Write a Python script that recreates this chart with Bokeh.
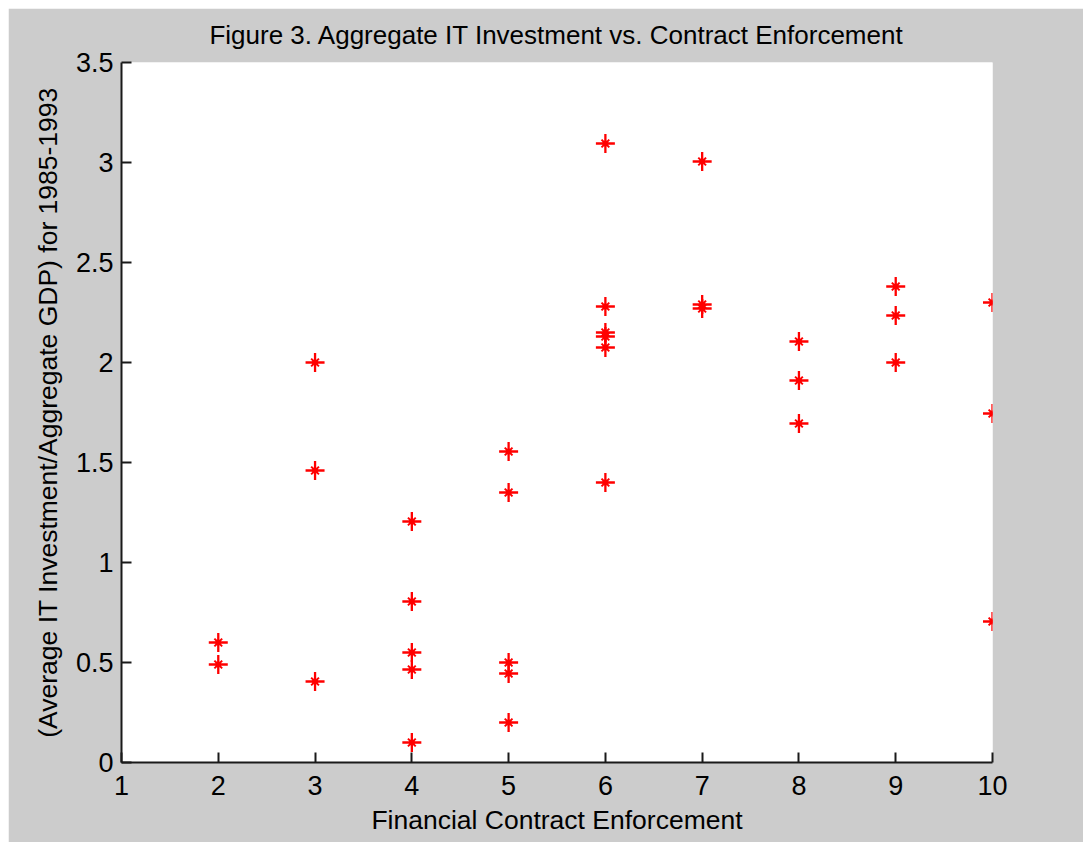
from bokeh.plotting import figure
from bokeh.models import Range1d, FixedTicker, Spacer
from bokeh.layouts import column, row
from bokeh.embed import file_html
from bokeh.resources import INLINE

# Data
enforcement = [2, 2,
               3, 3, 3,
               4, 4, 4, 4, 4,
               5, 5, 5, 5, 5,
               6, 6, 6, 6, 6, 6,
               7, 7, 7,
               8, 8, 8,
               9, 9, 9,
               10, 10, 10]
it_investment = [0.60, 0.49,
                 2.00, 1.46, 0.405,
                 1.205, 0.805, 0.55, 0.465, 0.10,
                 1.555, 1.35, 0.50, 0.445, 0.20,
                 3.095, 2.28, 2.15, 2.13, 2.075, 1.40,
                 3.005, 2.29, 2.27,
                 2.105, 1.91, 1.695,
                 2.38, 2.235, 2.00,
                 2.30, 1.745, 0.705]

x_ticks = [1, 2, 3, 4, 5, 6, 7, 8, 9, 10]
y_ticks = [0, 0.5, 1, 1.5, 2, 2.5, 3, 3.5]
y_tick_labels = ["0", "0.5", "1", "1.5", "2", "2.5", "3", "3.5"]

title_text = "Figure 3. Aggregate IT Investment vs. Contract Enforcement"
x_label = "Financial Contract Enforcement"
y_label = "(Average IT Investment/Aggregate GDP) for 1985-1993"

FONT = "Liberation Sans"
GREY = "#cccccc"

p = figure(width=1075, height=834, output_backend="svg", toolbar_location=None,
           x_range=Range1d(x_ticks[0], x_ticks[-1]),
           y_range=Range1d(y_ticks[0], y_ticks[-1]),
           min_border_left=113, min_border_right=91, min_border_top=54,
           min_border_bottom=80, title=title_text)

p.background_fill_color = "white"
p.border_fill_color = GREY
p.outline_line_color = None
p.grid.visible = False

p.title.align = "center"
p.title.vertical_align = "top"
p.title.text_font = FONT
p.title.text_font_size = "26px"
p.title.text_font_style = "normal"
p.title.text_color = "black"
p.title.standoff = 21

for ax in (p.xaxis[0], p.yaxis[0]):
    ax.axis_line_color = "#1a1a1a"
    ax.axis_line_width = 2
    ax.major_tick_line_color = "#1a1a1a"
    ax.major_tick_line_width = 2
    ax.major_tick_in = 10
    ax.major_tick_out = 0
    ax.minor_tick_line_color = None
    ax.major_label_text_font = FONT
    ax.major_label_text_font_size = "27px"
    ax.major_label_text_color = "black"
    ax.axis_label_text_font = FONT
    ax.axis_label_text_font_size = "26.5px"
    ax.axis_label_text_font_style = "normal"
    ax.axis_label_text_color = "black"

p.xaxis.ticker = FixedTicker(ticks=x_ticks)
p.yaxis.ticker = FixedTicker(ticks=y_ticks)
p.yaxis.major_label_overrides = {t: l for t, l in zip(y_ticks, y_tick_labels)}
p.xaxis.major_label_standoff = 13
p.yaxis.major_label_standoff = 8
p.xaxis.axis_label = x_label
p.yaxis.axis_label = y_label
p.xaxis.axis_label_standoff = 7
p.yaxis.axis_label_standoff = 10

p.scatter(enforcement, it_investment, marker="cross", size=19,
          line_color="red", line_width=2.3)
p.scatter(enforcement, it_investment, marker="x", size=11,
          line_color="red", line_width=2)
p.scatter(enforcement, it_investment, marker="circle", size=6,
          line_color=None, fill_color="red")

layout = column(Spacer(height=8, width=1083),
                row(Spacer(width=8, height=834), p, spacing=0),
                spacing=0)

open("out.html", "w").write(file_html(layout, INLINE))
